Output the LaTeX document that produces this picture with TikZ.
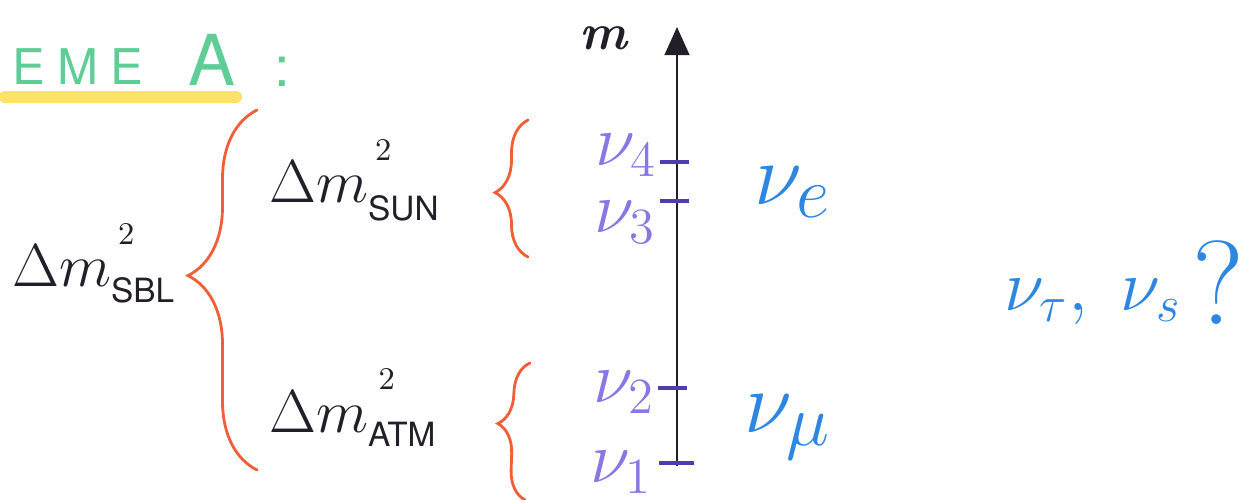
\documentclass[tikz,border=0pt]{standalone}
\usepackage{amsmath}
\usepackage{fontspec}
\usetikzlibrary{arrows.meta,positioning,decorations.pathreplacing}

\definecolor{inkblack}{RGB}{35,30,40}
\definecolor{titlegreen}{RGB}{95,205,150}
\definecolor{hlyellow}{RGB}{250,222,80}
\definecolor{braceorange}{RGB}{240,95,55}
\definecolor{nupurple}{RGB}{140,118,230}
\definecolor{tickpurple}{RGB}{80,60,175}
\definecolor{flavblue}{RGB}{45,135,225}

\newfontfamily\handsans{TeX Gyre Heros}
\newfontfamily\handsanswide[LetterSpace=25]{TeX Gyre Heros}

\begin{document}
\begin{tikzpicture}[
  every node/.style={inner sep=1pt},
  ink/.style={text=inkblack},
  titletext/.style={text=titlegreen},
  splitting/.style={text=inkblack, font=\LARGE, anchor=base west},
  masslabel/.style={text=nupurple, font=\huge},
  flavourlabel/.style={text=flavblue, font=\Huge},
  bracestyle/.style={draw=braceorange, thick, line cap=round, decorate},
  tickmark/.style={draw=tickpurple, line width=1pt},
  axisline/.style={draw=inkblack, thick, -{Triangle[width=7pt,length=8pt]}},
  highlight/.style={draw=hlyellow, line width=3.5pt, line cap=round, opacity=0.85}
]
\useasboundingbox (0,0) rectangle (12.39,-5);

% title, underlined with the highlighter
\node[titletext, anchor=west, font=\handsanswide\fontsize{14}{14}\selectfont] (eme) at (0.08,-0.67) {EME};
\node[titletext, font=\handsans\fontsize{20}{20}\selectfont] (capA) at (2.12,-0.60) {A};
\node[titletext, font=\handsans\fontsize{16}{16}\selectfont] (colon) at (2.82,-0.72) {:};
\coordinate (hlstart) at (0.05,-0.97);
\coordinate (hlend) at (2.36,-0.97);
\draw[highlight] (hlstart) -- (hlend);

% mass splittings
\node[splitting] (sbl) at (0.08,-2.87)
  {$\Delta m$\rlap{\hspace{2pt}\raisebox{12pt}{\small 2}}\raisebox{-4.5pt}{\handsans\fontsize{9.5}{10}\selectfont SBL}};
\node[splitting] (sun) at (2.65,-2.03)
  {$\Delta m$\rlap{\hspace{2pt}\raisebox{12pt}{\small 2}}\raisebox{-5pt}{\handsans\fontsize{9.5}{10}\selectfont SUN}};
\node[splitting] (atm) at (2.65,-4.32)
  {$\Delta m$\rlap{\hspace{3pt}\raisebox{12pt}{\small 2}}\raisebox{-4pt}{\handsans\fontsize{9.5}{10}\selectfont ATM}};

% braces
\coordinate (sblbot) at (2.57,-4.70);
\coordinate (sbltop) at (2.57,-1.10);
\coordinate (sunbot) at (5.28,-2.57);
\coordinate (suntop) at (5.28,-1.20);
\coordinate (atmbot) at (5.25,-5.00);
\coordinate (atmtop) at (5.30,-3.63);
\draw[bracestyle, decoration={brace, amplitude=0.69cm, aspect=0.54}] (sblbot) -- (sbltop);
\draw[bracestyle, decoration={brace, amplitude=0.33cm, aspect=0.47}] (sunbot) -- (suntop);
\draw[bracestyle, decoration={brace, amplitude=0.30cm, aspect=0.55}] (atmbot) -- (atmtop);

% mass axis
\coordinate (mbot) at (6.77,-4.66);
\coordinate (mtop) at (6.77,-0.27);
\draw[axisline] (mbot) -- (mtop);
\node[ink, font=\Large\bfseries\itshape] (mlabel) at (6.03,-0.38) {m};

\coordinate (t4) at (6.77,-1.62);
\coordinate (t3) at (6.77,-2.01);
\coordinate (t2) at (6.77,-3.88);
\coordinate (t1) at (6.77,-4.63);
\draw[tickmark] ([xshift=-0.17cm]t4) -- ([xshift=0.12cm]t4);
\draw[tickmark] ([xshift=-0.17cm]t3) -- ([xshift=0.12cm]t3);
\draw[tickmark] ([xshift=-0.19cm]t2) -- ([xshift=0.10cm]t2);
\draw[tickmark] ([xshift=-0.18cm]t1) -- ([xshift=0.17cm]t1);

\node[masslabel] (nu4) at (6.26,-1.55) {$\nu_4$};
\node[masslabel] (nu3) at (6.25,-2.22) {$\nu_3$};
\node[masslabel] (nu2) at (6.24,-3.92) {$\nu_2$};
\node[masslabel] (nu1) at (6.21,-4.72) {$\nu_1$};

% flavours
\node[flavourlabel] (nue) at (7.93,-1.92) {$\nu_e$};
\node[flavourlabel] (numu) at (7.88,-4.27) {$\nu_\mu$};
\node[text=flavblue, font=\huge] (sterile) at (10.93,-3.02) {$\nu_\tau,\;\nu_s$};
\node[text=flavblue, font=\fontsize{34}{34}\selectfont] (qmark) at (12.18,-2.83) {?};

\end{tikzpicture}
\end{document}
